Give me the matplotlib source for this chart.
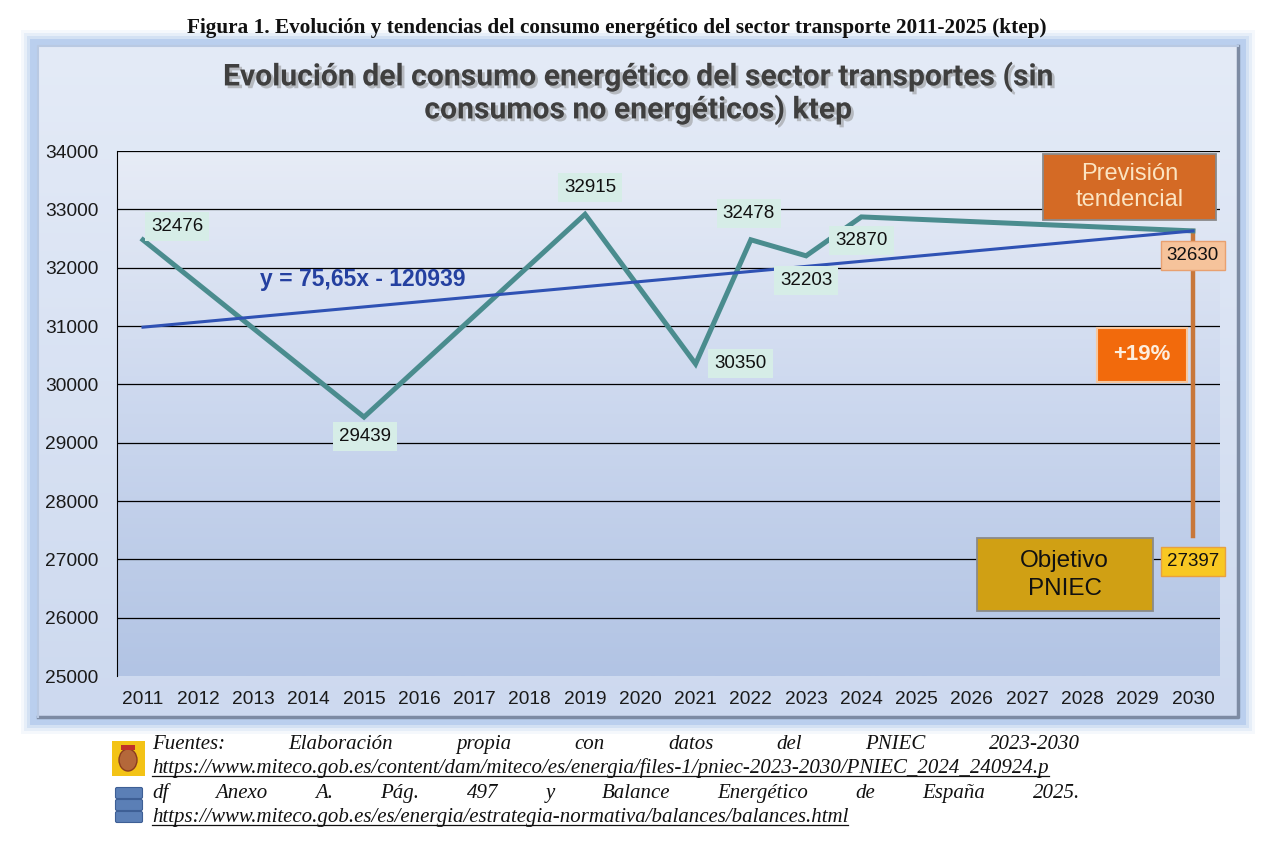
import numpy as np
import matplotlib.pyplot as plt
import matplotlib.patheffects as pe
from matplotlib.patches import Rectangle, FancyBboxPatch, Ellipse
from matplotlib.colors import LinearSegmentedColormap

plt.rcParams['font.family'] = ['Liberation Sans', 'DejaVu Sans']

# datos
years = list(range(2011, 2031))
serie_x = [2011, 2015, 2019, 2021, 2022, 2023, 2024, 2030]
serie_y = [32476, 29439, 32915, 30350, 32478, 32203, 32870, 32630]
trend_x = [2011, 2030]
trend_y = [30980, 32630]
objetivo = 27397
yticks = list(range(25000, 34001, 1000))

fig_title = "Figura 1. Evolución y tendencias del consumo energético del sector transporte 2011-2025 (ktep)"
chart_title = ["Evolución del consumo energético del sector transportes (sin",
               "consumos no energéticos) ktep"]
ecuacion = "y = 75,65x - 120939"
foot1 = "Fuentes: Elaboración propia con datos del PNIEC 2023-2030"
foot2 = "https://www.miteco.gob.es/content/dam/miteco/es/energia/files-1/pniec-2023-2030/PNIEC_2024_240924.p"
foot3 = "df Anexo A. Pág. 497 y Balance Energético de España 2025."
foot4 = "https://www.miteco.gob.es/es/energia/estrategia-normativa/balances/balances.html"

W, H = 1264, 846
fig = plt.figure(figsize=(W / 100, H / 100), dpi=100)
fig.patch.set_facecolor('white')

# fondo en pixeles
bg = fig.add_axes([0, 0, 1, 1], zorder=-5)
bg.set_xlim(0, W)
bg.set_ylim(H, 0)
bg.axis('off')

# halo azul del panel
for i, a in enumerate([0.10, 0.16, 0.25, 0.45]):
    d = 12 - i * 3
    bg.add_patch(Rectangle((33 - d, 42 - d), 1210 + 2 * d, 680 + 2 * d,
                           facecolor='#9dbbe8', edgecolor='none', alpha=a, zorder=0))
grad = np.linspace(0, 1, 256).reshape(-1, 1)
cmap_panel = LinearSegmentedColormap.from_list('p', ['#e4ebf7', '#cdd9ef'])
bg.imshow(grad, extent=(38, 1238, 717, 46), cmap=cmap_panel, aspect='auto', zorder=1)
bg.plot([38, 1238, 1238], [717, 717, 46], color='#7d8ba3', lw=2.5, zorder=2)
bg.plot([38, 38, 1238], [717, 46, 46], color='#b9c9e2', lw=1.5, zorder=2)

fig.text(617 / W, 1 - 28 / H, fig_title, ha='center', va='center',
         family='Liberation Serif', weight='bold', fontsize=15.3, color='#111111')

shadow = [pe.withSimplePatchShadow(offset=(2, -2), shadow_rgbFace='#8a8a8a', alpha=0.5)]
fig.text(638 / W, 1 - 77 / H, chart_title[0], ha='center', va='center', family='Roboto',
         weight='bold', fontsize=21.7, color='#3f3f3f', path_effects=shadow)
fig.text(638 / W, 1 - 110 / H, chart_title[1], ha='center', va='center', family='Roboto',
         weight='bold', fontsize=21.7, color='#3f3f3f', path_effects=shadow)

# grafico
ax = fig.add_axes([117 / W, 1 - 676 / H, 1103 / W, 525 / H])
ax.patch.set_visible(False)
cmap_plot = LinearSegmentedColormap.from_list('a', ['#e7ecf6', '#cbd7ee', '#b2c4e4'])
ax.imshow(grad, extent=(0, 1, 0, 1), transform=ax.transAxes, cmap=cmap_plot,
          aspect='auto', zorder=0)
ax.set_xlim(2010.53, 2030.49)
ax.set_ylim(25000, 34000)
ax.set_xticks(years)
ax.set_yticks(yticks)
ax.tick_params(length=0, labelsize=13.8, colors='#1a1a1a')
ax.tick_params(axis='y', pad=13.5)
ax.tick_params(axis='x', pad=10.5)
for s in ['top', 'right', 'bottom']:
    ax.spines[s].set_visible(False)
ax.spines['left'].set_color('black')
ax.hlines(yticks[1:], 2010.53, 2030.49, color='black', lw=0.9, zorder=1)

ax.plot(serie_x, serie_y, color='#4a8c8e', lw=3.6, zorder=3, solid_joinstyle='miter')
ax.plot(trend_x, trend_y, color='#2f52b4', lw=2.2, zorder=4)
ax.plot([2030, 2030], [serie_y[-1], objetivo], color='#c8773a', lw=3.2, zorder=2)

ax.text(2014.98, 31789, ecuacion, ha='center', va='center', fontsize=16.5,
        weight='bold', color='#2440a0', zorder=5)

offsets = [(34, 13), (1, -19), (5, 27), (45, 0), (-2, 26), (0, -25), (0, -24), (0, -25)]
for x, y, off in zip(serie_x, serie_y, offsets):
    if x == 2030:
        fc, ec = '#f6c39b', '#e8a070'
    else:
        fc, ec = '#d6ede7', 'none'
    ax.annotate(str(y), (x, y), xytext=(off[0] * 0.72, off[1] * 0.72),
                textcoords='offset points', ha='center', va='center', fontsize=13.5,
                color='#111111', zorder=6, annotation_clip=False,
                bbox=dict(boxstyle='square,pad=0.32', fc=fc, ec=ec, lw=1))
ax.annotate(str(objetivo), (2030, objetivo), xytext=(0, -18),
            textcoords='offset points', ha='center', va='center', fontsize=13.5,
            color='#111111', zorder=6, annotation_clip=False,
            bbox=dict(boxstyle='square,pad=0.32', fc='#f8c823', ec='#e8a040', lw=1))

ax.add_patch(Rectangle((2027.29, 32817), 3.13, 1132, fc='#d46a25', ec='#8a8a8a',
                       lw=1.3, zorder=6, clip_on=False))
ax.text(2028.86, 33383, "Previsión\ntendencial", ha='center', va='center', fontsize=17,
        color='#fbe4c2', linespacing=1.25, zorder=7)
ax.text(2029.08, 30503, "+19%", ha='center', va='center', fontsize=16, weight='bold',
        color='#fdeede', zorder=6,
        bbox=dict(boxstyle='square,pad=0.75', fc='#f26a0c', ec='#f6c8a0', lw=1.5))
ax.add_patch(Rectangle((2026.09, 26114), 3.18, 1251, fc='#d0a014', ec='#8a8a8a',
                       lw=1.3, zorder=6))
ax.text(2027.68, 26731, "Objetivo\nPNIEC", ha='center', va='center', fontsize=17.5,
        color='#111111', linespacing=1.3, zorder=7)

# pie
r = fig.canvas.get_renderer()
fkw = dict(family='Liberation Serif', style='italic', fontsize=15, color='#111111',
           va='baseline')


def justified(line, y, x0=152, x1=1080):
    words = line.split()
    ts = [bg.text(0, y, w, ha='left', **fkw) for w in words]
    ws = [t.get_window_extent(r).width for t in ts]
    gap = (x1 - x0 - sum(ws)) / (len(words) - 1)
    x = x0
    for t, w in zip(ts, ws):
        t.set_x(x)
        x += w + gap


def underlined(line, y, x0=152):
    t = bg.text(x0, y, line, ha='left', **fkw)
    w = t.get_window_extent(r).width
    bg.plot([x0, x0 + w], [y + 3, y + 3], color='#111111', lw=0.9)


justified(foot1, 749)
underlined(foot2, 773)
justified(foot3, 798)
underlined(foot4, 822)

# iconos
bg.add_patch(Rectangle((112, 741), 33, 35, fc='#f3c316', ec='none'))
bg.add_patch(Ellipse((128, 760), 18, 22, fc='#b4683a', ec='#8a3c20', lw=1))
bg.add_patch(Rectangle((121, 745), 14, 5, fc='#c0302a', ec='none'))
for yy in [789, 801, 813]:
    bg.add_patch(FancyBboxPatch((117, yy), 24, 8, boxstyle='round,pad=1.5',
                                fc='#5b7fb6', ec='#3e5f95', lw=0.8))

fig.savefig('out.png', dpi=100)
